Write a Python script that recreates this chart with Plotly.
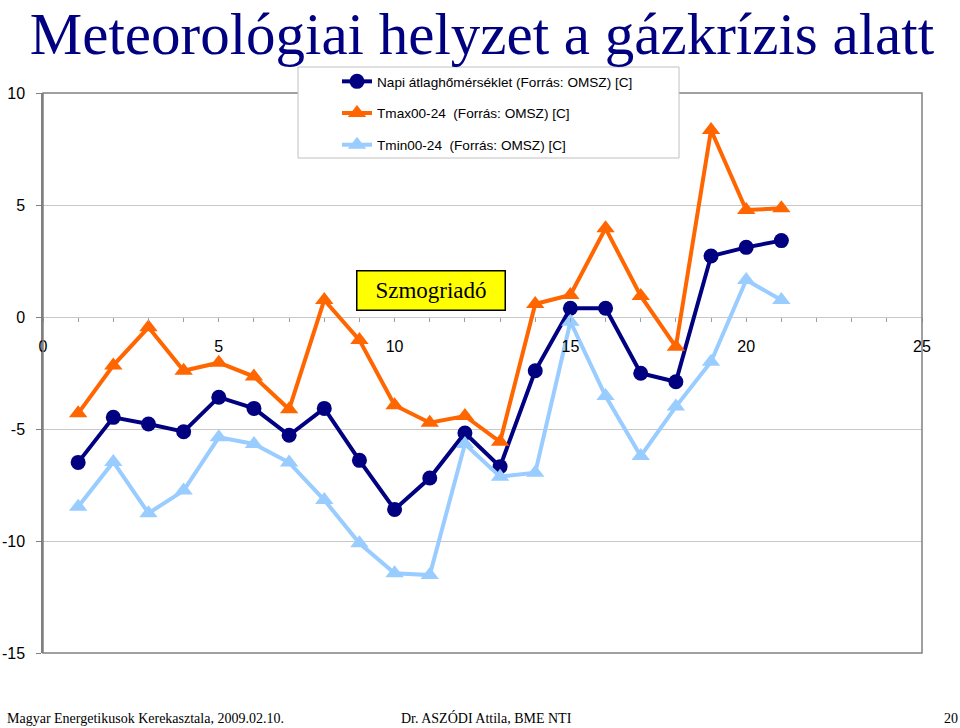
import plotly.graph_objects as go

# ---- data ----
days = list(range(1, 22))
napi = [-6.49, -4.48, -4.78, -5.12, -3.58, -4.08, -5.28, -4.08, -6.40, -8.59, -7.19,
        -5.18, -6.68, -2.40, 0.39, 0.39, -2.51, -2.89, 2.72, 3.11, 3.41]
tmax = [-4.30, -2.16, -0.46, -2.40, -2.04, -2.66, -4.12, 0.76, -1.03, -3.94, -4.72,
        -4.42, -5.57, 0.58, 0.98, 3.96, 0.94, -1.33, 8.35, 4.78, 4.85]
tmin = [-8.47, -6.47, -8.76, -7.75, -5.37, -5.67, -6.50, -8.17, -10.10, -11.44, -11.52,
        -5.67, -7.13, -6.95, -0.21, -3.53, -6.21, -4.00, -2.00, 1.65, 0.76]
series_names = ["Napi átlaghőmérséklet (Forrás: OMSZ) [C]",
                "Tmax00-24  (Forrás: OMSZ) [C]",
                "Tmin00-24  (Forrás: OMSZ) [C]"]
x_ticks = [0, 5, 10, 15, 20, 25]
y_ticks = [-15, -10, -5, 0, 5, 10]
y_tick_text = ["-15", "-10", "-5", "0", "5", "10"]
title_text = "Meteorológiai helyzet a gázkrízis alatt"
footer_left = "Magyar Energetikusok Kerekasztala, 2009.02.10."
footer_mid = "Dr. ASZÓDI Attila, BME NTI"
footer_right = "20"
smog_label = "Szmogriadó"

NAVY = "#000080"
ORANGE = "#FF6600"
LIGHT = "#99CCFF"

fig = go.Figure()
fig.add_trace(go.Scatter(x=days, y=napi, name=series_names[0], mode="lines+markers",
                         line=dict(color=NAVY, width=4),
                         marker=dict(symbol="circle", size=15, color=NAVY),
                         legendgroup="a"))
fig.add_trace(go.Scatter(x=days, y=tmax, name=series_names[1], mode="lines+markers",
                         line=dict(color=ORANGE, width=4),
                         marker=dict(symbol="triangle-up", size=16, color=ORANGE),
                         legendgroup="b"))
fig.add_trace(go.Scatter(x=days, y=tmin, name=series_names[2], mode="lines+markers",
                         line=dict(color=LIGHT, width=4),
                         marker=dict(symbol="triangle-up", size=16, color=LIGHT),
                         legendgroup="c"))

L, R, T, B = 43, 38, 93, 75
W, H = 960, 728
pw, ph = W - L - R, H - T - B

def px_x(px):
    return (px - L) / pw

def px_y(py):
    return (H - B - py) / ph

fig.update_layout(
    width=W, height=H,
    margin=dict(l=L, r=R, t=T, b=B, autoexpand=False),
    paper_bgcolor="white", plot_bgcolor="white",
    font=dict(family="Liberation Sans, Arial", color="#000000"),
    title=dict(text=title_text, x=0.502, xref="container", xanchor="center",
               y=1 - 33 / H, yref="container", yanchor="middle",
               font=dict(family="Liberation Serif, Times New Roman", size=59, color=NAVY)),
    showlegend=True,
    legend=dict(x=px_x(337), y=px_y(66), xanchor="left", yanchor="top",
                bgcolor="rgba(0,0,0,0)", borderwidth=0,
                font=dict(size=13.6, color="#000000"),
                tracegroupgap=11, itemwidth=30),
    xaxis=dict(range=[0, 25], tickvals=x_ticks, showgrid=False, zeroline=False,
               showline=False, anchor="free", position=0.6, automargin=False,
               ticks="outside", ticklen=4, tickcolor="#a0a0a0",
               minor=dict(dtick=1, ticks="outside", ticklen=4, tickcolor="#a0a0a0"),
               tickfont=dict(size=16, color="#000000"), ticklabelstandoff=11),
    yaxis=dict(range=[-15, 10], tickvals=y_ticks, ticktext=y_tick_text,
               showgrid=True, gridcolor="#c8c8c8", automargin=False,
               gridwidth=1, zeroline=False, showline=True, linecolor="#808080",
               linewidth=1.5, ticks="outside", ticklen=5, tickcolor="#808080",
               tickfont=dict(size=16, color="#000000"), ticklabelstandoff=8),
)

# plot-area frame
fig.add_shape(type="rect", xref="paper", yref="paper", x0=0, x1=1, y0=0, y1=1,
              line=dict(color="#808080", width=1.5), layer="above")
# legend frame
fig.add_shape(type="rect", xref="paper", yref="paper",
              x0=px_x(298), x1=px_x(679), y0=px_y(158), y1=px_y(67),
              line=dict(color="#c0c0c0", width=1), fillcolor="white", layer="above")

# Szmogriadó box
fig.add_annotation(x=11.03, y=1.2, xref="x", yref="y", text=smog_label, showarrow=False,
                   font=dict(family="Liberation Serif, Times New Roman", size=23, color="#000000"),
                   bgcolor="#FFFF00", bordercolor="#000000", borderwidth=1.5,
                   width=145, height=36)

# footer
fig.add_annotation(x=px_x(5), y=px_y(718), xref="paper", yref="paper", text=footer_left,
                   showarrow=False, xanchor="left", yanchor="middle",
                   font=dict(family="Liberation Serif, Times New Roman", size=14, color="#000000"))
fig.add_annotation(x=px_x(399), y=px_y(718), xref="paper", yref="paper", text=footer_mid,
                   showarrow=False, xanchor="left", yanchor="middle",
                   font=dict(family="Liberation Serif, Times New Roman", size=14, color="#000000"))
fig.add_annotation(x=px_x(960), y=px_y(718), xref="paper", yref="paper", text=footer_right,
                   showarrow=False, xanchor="right", yanchor="middle",
                   font=dict(family="Liberation Serif, Times New Roman", size=14, color="#000000"))

fig.write_html("out.html")
